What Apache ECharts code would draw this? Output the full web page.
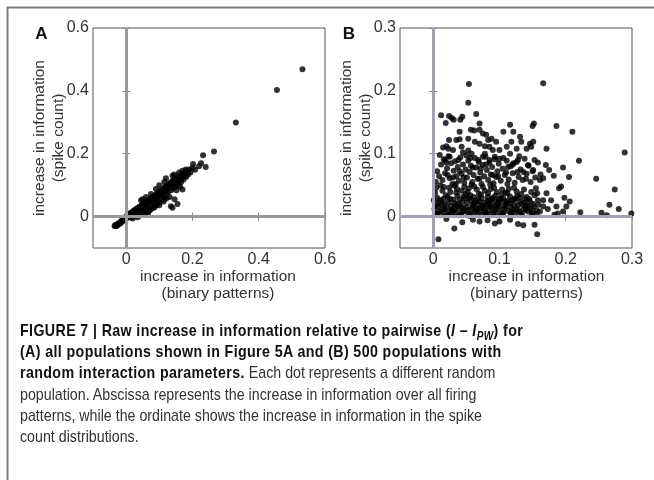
<!DOCTYPE html>
<html>
<head>
<meta charset="utf-8">
<script src="https://cdn.jsdelivr.net/npm/echarts@6/dist/echarts.min.js"></script>
<style>
html, body { margin: 0; padding: 0; background: #fff; }
#wrap { position: relative; width: 654px; height: 480px; overflow: hidden; }
#chart { position: absolute; left: 0; top: 0; width: 654px; height: 480px; }
#caption {
  position: absolute; left: 20px; top: 320px; width: 760px;
  font-family: "Liberation Sans Narrow", "Liberation Sans", Arial, sans-serif;
  font-size: 17px; line-height: 21.2px; color: #333; white-space: nowrap;
  transform: scaleX(0.837); transform-origin: 0 0;
}
#caption b { color: #111; letter-spacing: 0.45px; }
#caption sub { font-size: 12px; line-height: 0; vertical-align: -4px; }
</style>
</head>
<body>
<div id="wrap">
  <div id="chart"></div>
  <div id="caption">
    <b>FIGURE 7 | Raw increase in information relative to pairwise (<i>I</i> – <i>I</i><sub><i>PW</i></sub>) for</b><br>
    <b>(A) all populations shown in Figure 5A and (B) 500 populations with</b><br>
    <b>random interaction parameters.</b> Each dot represents a different random<br>
    population. Abscissa represents the increase in information over all firing<br>
    patterns, while the ordinate shows the increase in information in the spike<br>
    count distributions.
  </div>
</div>
<script>
// tick values
var xTicksA = [0, 0.2, 0.4, 0.6];
var yTicksA = [0, 0.2, 0.4, 0.6];
var xTicksB = [0, 0.1, 0.2, 0.3];
var yTicksB = [0, 0.1, 0.2, 0.3];

// panel A: all populations (binary patterns, spike count)
var popA = [
  [-0.035,-0.03],[-0.033,-0.027],[-0.03,-0.031],[-0.028,-0.025],[-0.026,-0.028],[-0.024,-0.022],[-0.021,-0.024],[-0.019,-0.018],
  [-0.017,-0.021],[-0.015,-0.014],[-0.013,-0.017],[-0.011,-0.011],[-0.009,-0.013],[-0.007,-0.006],[-0.005,-0.01],[-0.003,-0.003],
  [-0.001,-0.007],[0.001,0.001],[0.003,-0.004],[0.005,0.005],[0.007,-0.001],[0.009,0.008],[0.011,0.002],[0.013,0.011],
  [0.014,-0.003],[0.016,0.006],[0.018,0.014],[0.02,0.003],[0.021,0.017],[0.023,0.009],[0.025,0.02],[0.026,0.001],
  [0.028,0.013],[0.03,0.024],[0.031,0.007],[0.033,0.018],[0.035,0.027],[0.036,0.011],[0.038,0.022],[0.04,0.031],
  [0.041,0.004],[0.043,0.016],[0.045,0.026],[0.046,0.035],[0.048,0.019],[0.05,0.039],[0.051,0.029],[0.053,0.009],
  [0.055,0.043],[0.056,0.023],[0.058,0.033],[0.06,0.046],[0.061,0.014],[0.063,0.038],[0.065,0.05],[0.066,0.028],
  [0.068,0.042],[0.07,0.054],[0.071,0.019],[0.073,0.046],[0.075,0.058],[0.076,0.035],[0.078,0.05],[0.08,0.062],
  [0.081,0.027],[0.083,0.055],[0.085,0.066],[0.086,0.044],[0.088,0.059],[0.09,0.07],[0.091,0.036],[0.093,0.063],
  [0.095,0.075],[0.096,0.052],[0.098,0.067],[0.1,0.079],[0.101,0.045],[0.103,0.071],[0.105,0.083],[0.106,0.06],
  [0.108,0.075],[0.11,0.087],[0.111,0.066],[0.113,0.079],[0.115,0.092],[0.116,0.055],[0.118,0.083],[0.12,0.096],
  [0.121,0.071],[0.123,0.088],[0.125,0.1],[0.126,0.077],[0.128,0.092],[0.13,0.105],[0.131,0.062],[0.133,0.096],
  [0.135,0.109],[0.136,0.084],[0.138,0.1],[0.14,0.113],[0.141,0.09],[0.143,0.104],[0.145,0.118],[0.147,0.095],
  [0.149,0.109],[0.151,0.122],[0.153,0.1],[0.155,0.113],[0.157,0.126],[0.159,0.104],[0.161,0.118],[0.163,0.131],
  [0.166,0.11],[0.168,0.124],[0.17,0.136],[0.173,0.118],[0.175,0.13],[0.178,0.14],[0.181,0.126],[0.184,0.146],
  [0.187,0.134],[0.19,0.15],[0.194,0.14],
  [0.02,-0.006],[0.035,-0.002],[0.048,0.006],[0.058,0.013],[0.066,0.01],[0.075,0.024],[0.086,0.03],[0.092,0.042],
  [0.1,0.036],[0.113,0.048],[0.122,0.058],[0.135,0.033],[0.14,0.028],[0.146,0.055],[0.155,0.04],[0.17,0.086],
  [0.163,0.095],[0.152,0.084],
  [0.045,0.052],[0.05,0.055],[0.06,0.062],[0.075,0.072],[0.09,0.088],[0.1,0.1],[0.115,0.11],[0.12,0.122],
  [0.14,0.13],[0.145,0.134],[0.16,0.14],[0.17,0.146],[0.18,0.15],[0.2,0.155],[0.208,0.149],[0.202,0.167],
  [0.226,0.17],[0.24,0.158],[0.22,0.16],[0.232,0.195],[0.265,0.207],[0.331,0.299],[0.455,0.403],[0.532,0.469]
];

// panel B: 500 populations with random interaction parameters
var popB = [
  // upper part
  [0.054,0.211],[0.166,0.212],[0.053,0.181],[0.012,0.161],[0.019,0.149],[0.024,0.16],[0.028,0.157],[0.031,0.154],
  [0.041,0.154],[0.044,0.159],[0.065,0.163],[0.07,0.148],[0.186,0.144],[0.21,0.135],[0.152,0.148],[0.15,0.144],
  [0.116,0.146],[0.04,0.135],[0.057,0.138],[0.062,0.137],[0.07,0.138],[0.075,0.132],[0.08,0.13],[0.083,0.122],
  [0.088,0.124],[0.095,0.119],[0.106,0.135],[0.121,0.135],[0.131,0.127],[0.133,0.119],[0.118,0.119],[0.111,0.111],
  [0.1,0.106],[0.09,0.106],[0.078,0.112],[0.07,0.116],[0.063,0.119],[0.053,0.124],[0.04,0.123],[0.035,0.122],
  [0.024,0.122],[0.02,0.112],[0.015,0.11],[0.023,0.108],[0.03,0.106],[0.045,0.102],[0.053,0.105],[0.058,0.1],
  [0.078,0.1],[0.116,0.1],[0.126,0.108],[0.141,0.108],[0.146,0.116],[0.148,0.111],[0.151,0.119],[0.171,0.108],
  [0.289,0.102],[0.043,0.111],[0.085,0.111],
  // middle band
  [0.22,0.089],[0.196,0.078],[0.205,0.063],[0.175,0.074],[0.17,0.082],[0.166,0.061],[0.153,0.09],[0.143,0.082],
  [0.151,0.074],[0.136,0.071],[0.128,0.09],[0.121,0.085],[0.113,0.079],[0.106,0.093],[0.093,0.095],[0.085,0.09],
  [0.075,0.095],[0.068,0.09],[0.056,0.093],[0.038,0.09],[0.025,0.095],[0.018,0.09],[0.182,0.065],[0.161,0.058],
  [0.004,0.055],[0.006,0.072],[0.009,0.064],[0.012,0.083],[0.014,0.058],[0.016,0.091],[0.018,0.069],[0.021,0.077],
  [0.023,0.096],[0.025,0.061],[0.027,0.085],[0.029,0.052],[0.031,0.073],[0.033,0.088],[0.035,0.064],[0.037,0.079],
  [0.039,0.057],[0.041,0.094],[0.043,0.068],[0.045,0.083],[0.047,0.054],[0.049,0.075],[0.051,0.062],[0.053,0.089],
  [0.055,0.071],[0.057,0.081],[0.059,0.055],[0.061,0.066],[0.063,0.093],[0.065,0.078],[0.067,0.06],[0.069,0.087],
  [0.071,0.07],[0.073,0.052],[0.075,0.082],[0.077,0.064],[0.079,0.095],[0.081,0.074],[0.083,0.058],[0.085,0.086],
  [0.087,0.067],[0.089,0.079],[0.091,0.053],[0.093,0.091],[0.095,0.063],[0.097,0.072],[0.099,0.084],[0.102,0.057],
  [0.105,0.076],[0.108,0.066],[0.111,0.089],[0.114,0.059],[0.117,0.08],[0.12,0.069],[0.123,0.054],[0.126,0.087],
  [0.129,0.063],[0.132,0.075],[0.135,0.058],[0.138,0.092],[0.141,0.068],[0.144,0.081],[0.147,0.055],[0.15,0.072],
  [0.154,0.062],[0.158,0.086],[0.162,0.067],[0.01,0.098],[0.02,0.086],[0.03,0.062],[0.04,0.072],[0.05,0.097],
  [0.06,0.078],[0.07,0.06],[0.08,0.083],[0.09,0.066],[0.1,0.092],[0.11,0.07],[0.12,0.083],[0.13,0.096],
  [0.14,0.06],[0.022,0.066],[0.034,0.052],[0.046,0.062],[0.058,0.051],[0.072,0.077],[0.086,0.051],[0.098,0.064],
  [0.112,0.052],[0.127,0.071],
  // lower dense part
  [0.002,0.012],[0.004,0.004],[0.006,0.03],[0.003,0.038],[0.008,0.022],[0.005,0.046],[0.009,0.008],[0.007,0.016],
  [0.001,0.026],[0.012,0.003],[0.014,0.041],[0.011,0.05],[0.017,0.012],[0.015,0.028],[0.019,0.034],[0.013,0.019],
  [0.018,0.006],[0.016,0.047],[0.021,0.002],[0.023,0.023],[0.026,0.039],[0.028,0.011],[0.024,0.046],[0.027,0.017],
  [0.022,0.031],[0.029,0.004],[0.025,0.008],[0.031,0.027],[0.033,0.013],[0.036,0.044],[0.038,0.02],[0.034,0.006],
  [0.037,0.033],[0.032,0.049],[0.039,0.002],[0.035,0.038],[0.041,0.016],[0.043,0.041],[0.046,0.009],[0.048,0.029],
  [0.044,0.023],[0.047,0.047],[0.042,0.003],[0.049,0.036],[0.045,0.014],[0.051,0.022],[0.053,0.005],[0.056,0.034],
  [0.058,0.012],[0.054,0.045],[0.057,0.026],[0.052,0.039],[0.059,0.018],[0.055,0.001],[0.061,0.031],[0.063,0.008],
  [0.066,0.043],[0.068,0.019],[0.064,0.025],[0.067,0.003],[0.062,0.048],[0.069,0.036],[0.065,0.013],[0.071,0.009],
  [0.073,0.029],[0.076,0.015],[0.078,0.041],[0.074,0.002],[0.077,0.022],[0.072,0.035],[0.079,0.006],[0.075,0.047],
  [0.081,0.019],[0.083,0.037],[0.086,0.004],[0.088,0.027],[0.084,0.011],[0.087,0.044],[0.082,0.031],[0.089,0.014],
  [0.085,0.023],[0.091,0.006],[0.093,0.024],[0.096,0.039],[0.098,0.012],[0.094,0.033],[0.097,0.019],[0.092,0.046],
  [0.099,0.028],[0.095,0.002],[0.101,0.016],[0.103,0.035],[0.106,0.007],[0.108,0.024],[0.104,0.043],[0.107,0.012],
  [0.102,0.028],[0.109,0.038],[0.105,0.003],[0.111,0.021],[0.113,0.009],[0.116,0.032],[0.118,0.015],[0.114,0.044],
  [0.117,0.004],[0.112,0.037],[0.119,0.026],[0.121,0.011],[0.123,0.027],[0.126,0.04],[0.128,0.018],[0.124,0.005],
  [0.127,0.033],[0.122,0.046],[0.129,0.009],[0.131,0.023],[0.133,0.036],[0.136,0.012],[0.138,0.028],[0.134,0.004],
  [0.137,0.043],[0.139,0.017],[0.141,0.031],[0.143,0.008],[0.146,0.024],[0.148,0.039],[0.144,0.015],[0.149,0.003],
  [0.151,0.02],[0.153,0.034],[0.156,0.01],[0.158,0.026],[0.155,0.045],
  [0.004,0.018],[0.011,0.026],[0.017,0.02],[0.02,0.015],[0.026,0.028],[0.03,0.009],[0.035,0.018],[0.04,0.027],
  [0.044,0.007],[0.05,0.015],[0.054,0.029],[0.058,0.004],[0.062,0.021],[0.066,0.01],[0.07,0.024],[0.074,0.017],
  [0.078,0.01],[0.082,0.025],[0.086,0.016],[0.09,0.03],[0.094,0.01],[0.098,0.021],[0.102,0.005],[0.106,0.029],
  [0.11,0.014],[0.114,0.025],[0.118,0.007],[0.122,0.019],[0.126,0.012],[0.13,0.03],[0.134,0.02],[0.14,0.011],
  [0.145,0.028],[0.15,0.007],[0.006,0.005],[0.013,0.011],[0.024,0.003],[0.032,0.021],[0.038,0.012],[0.046,0.032],
  [0.052,0.01],[0.06,0.016],[0.068,0.028],[0.072,0.013],[0.08,0.003],[0.084,0.02],[0.092,0.017],[0.1,0.024],
  [0.108,0.018],[0.116,0.021],[0.124,0.029],[0.132,0.006],[0.138,0.022],[0.142,0.018],[0.147,0.012],[0.152,0.016],
  [0.156,0.004],[0.159,0.019],
  // right side and below zero
  [0.19,0.045],[0.198,0.03],[0.206,0.024],[0.193,0.048],[0.186,0.016],[0.183,0.003],[0.173,0.012],[0.178,0.026],
  [0.166,0.026],[0.157,0.037],[0.171,0.037],[0.246,0.06],[0.274,0.043],[0.266,0.019],[0.28,0.012],[0.299,0.005],
  [0.254,0.006],[0.262,0.002],[0.222,0.007],[0.201,0.016],[0.196,0.008],[0.188,0.005],[0.161,0.008],[0.166,0.016],
  [0.008,-0.036],[0.032,-0.019],[0.044,-0.009],[0.128,-0.012],[0.136,-0.014],[0.153,-0.013],[0.157,-0.028],[0.082,-0.006],
  [0.093,-0.011],[0.07,-0.008],[0.1,-0.008],[0.06,-0.005],[0.116,-0.005],[0.02,-0.004]
];

var chart = echarts.init(document.getElementById('chart'));
var txt = '#333';
var fam = '"Liberation Sans", Arial, sans-serif';

function boxTicks(ticks) {
  return { inside: true, length: 4, lineStyle: { color: '#8a8a8a' }, customValues: ticks };
}

function xAxes(gi, min, max, ticks, padLeft) {
  return [{
    gridIndex: gi, type: 'value', min: min, max: max, position: 'bottom',
    axisLine: { show: false }, splitLine: { show: false },
    axisTick: boxTicks(ticks),
    axisLabel: { customValues: ticks, color: txt, fontSize: 16, margin: 4, fontFamily: fam },
    name: 'increase in information\n(binary patterns)',
    nameLocation: 'middle', nameGap: 20, nameMoveOverlap: false,
    nameTextStyle: { color: txt, fontSize: 15.5, lineHeight: 17, fontFamily: fam, padding: [0, 0, 0, padLeft] }
  }, {
    gridIndex: gi, type: 'value', min: min, max: max, position: 'top',
    axisLine: { show: false }, splitLine: { show: false },
    axisTick: boxTicks(ticks), axisLabel: { show: false }
  }];
}

function yAxes(gi, min, max, ticks) {
  return [{
    gridIndex: gi, type: 'value', min: min, max: max, position: 'left',
    axisLine: { show: false }, splitLine: { show: false },
    axisTick: boxTicks(ticks),
    axisLabel: { customValues: ticks, color: txt, fontSize: 16, margin: 4, fontFamily: fam },
    name: 'increase in information\n(spike count)',
    nameLocation: 'middle', nameGap: 25, nameMoveOverlap: false,
    nameTextStyle: { color: txt, fontSize: 15.5, lineHeight: 19, fontFamily: fam }
  }, {
    gridIndex: gi, type: 'value', min: min, max: max, position: 'right',
    axisLine: { show: false }, splitLine: { show: false },
    axisTick: boxTicks(ticks), axisLabel: { show: false }
  }];
}

function zeroLines(xi, yi, color) {
  return {
    type: 'scatter', xAxisIndex: xi, yAxisIndex: yi, data: [], z: 1, silent: true,
    markLine: {
      silent: true, symbol: 'none', label: { show: false },
      lineStyle: { color: color, width: 3, type: 'solid' },
      data: [{ xAxis: 0 }, { yAxis: 0 }]
    }
  };
}

var option = {
  animation: false,
  backgroundColor: '#fff',
  grid: [
    { left: 93, top: 28, width: 232, height: 220, show: true, borderColor: '#555', borderWidth: 1, backgroundColor: 'transparent' },
    { left: 400, top: 28, width: 232, height: 220, show: true, borderColor: '#555', borderWidth: 1, backgroundColor: 'transparent' }
  ],
  xAxis: xAxes(0, -0.1, 0.6, xTicksA, 18).concat(xAxes(1, -0.05, 0.3, xTicksB, 21)),
  yAxis: yAxes(0, -0.1, 0.6, yTicksA).concat(yAxes(1, -0.05, 0.3, yTicksB)),
  series: [
    zeroLines(0, 0, '#999'),
    zeroLines(2, 2, '#a2a2b2'),
    { type: 'scatter', xAxisIndex: 0, yAxisIndex: 0, data: popA, symbolSize: 6, z: 3,
      itemStyle: { color: '#000' } },
    { type: 'scatter', xAxisIndex: 2, yAxisIndex: 2, data: popB, symbolSize: 6, z: 3,
      itemStyle: { color: '#000' } }
  ],
  graphic: [
    { type: 'line', silent: true, shape: { x1: 7, y1: 7.5, x2: 654, y2: 7.5 }, style: { stroke: '#7d7d7d', lineWidth: 2 } },
    { type: 'line', silent: true, shape: { x1: 7.5, y1: 7, x2: 7.5, y2: 480 }, style: { stroke: '#7d7d7d', lineWidth: 2 } },
    { type: 'text', x: 41.5, y: 34, style: { text: 'A', font: 'bold 17px "Liberation Sans"', fill: '#111',
      align: 'center', verticalAlign: 'middle', textAlign: 'center', textVerticalAlign: 'middle' } },
    { type: 'text', x: 349, y: 34, style: { text: 'B', font: 'bold 17px "Liberation Sans"', fill: '#111',
      align: 'center', verticalAlign: 'middle', textAlign: 'center', textVerticalAlign: 'middle' } }
  ]
};

chart.setOption(option);
</script>
</body>
</html>
